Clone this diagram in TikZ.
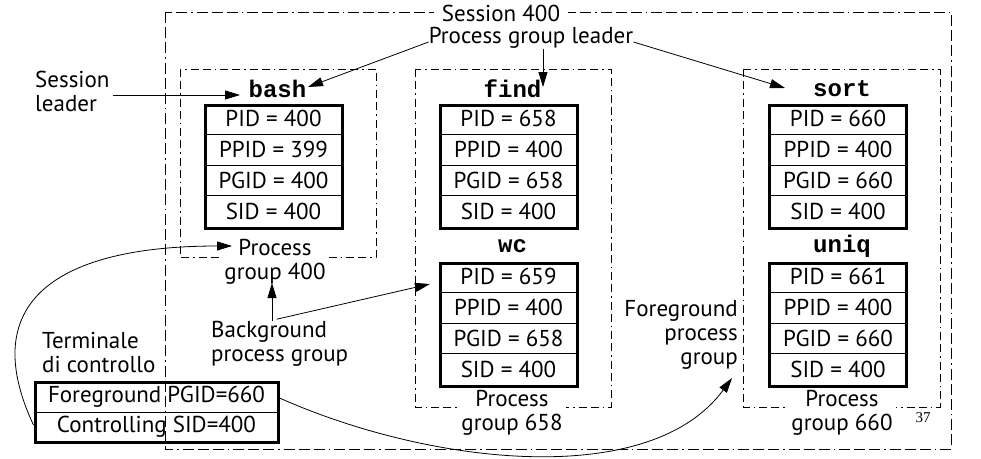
\documentclass[tikz,border=0pt]{standalone}
\usepackage{fontspec}
\setmainfont{PT Sans}
\newfontfamily\monofont{Liberation Mono}
\newfontfamily\serifnum{Liberation Serif}
\usetikzlibrary{arrows.meta}

\newcommand\proctable[8]{%
  \node[tbl] (#1) at (#2,#3) {};
  \node[pname] (#1-name) at ([xshift=4pt,yshift=15pt]#1.north) {#4};
  \node[cell] (#1-r1) at ([yshift=-15.4pt]#1.north) {#5};
  \node[cell] (#1-r2) at ([yshift=-46.1pt]#1.north) {#6};
  \node[cell] (#1-r3) at ([yshift=-76.9pt]#1.north) {#7};
  \node[cell] (#1-r4) at ([yshift=-107.6pt]#1.north) {#8};
  \draw[thin line] ([yshift=-30.75pt]#1.north west) -- ([yshift=-30.75pt]#1.north east);
  \draw[thin line] ([yshift=-61.5pt]#1.north west) -- ([yshift=-61.5pt]#1.north east);
  \draw[thin line] ([yshift=-92.25pt]#1.north west) -- ([yshift=-92.25pt]#1.north east);
}

\begin{document}
\begin{tikzpicture}[x=1pt,y=-1pt,
  txt/.style={font=\fontsize{23}{24}\selectfont, inner sep=0pt},
  cell/.style={txt},
  pname/.style={font=\monofont\bfseries\fontsize{24}{24}\selectfont, inner sep=0pt},
  tbl/.style={draw, line width=3pt, minimum width=137pt, minimum height=123pt, inner sep=0pt},
  thin line/.style={line width=0.9pt},
  sessbox/.style={line width=0.9pt, dash pattern=on 11pt off 4pt on 11pt off 4pt on 11pt off 4pt on 1.5pt off 4pt},
  grpbox/.style={line width=0.9pt, dash pattern=on 8pt off 4pt on 8pt off 4pt on 1.5pt off 4pt},
  arr/.style={line width=0.8pt, -{Triangle[length=15pt,width=9pt]}},
  lbl/.style={txt, fill=white, inner sep=3pt, align=center}
]
\useasboundingbox (0,0) rectangle (981,458);

% session box
\draw[sessbox] (165,12) rectangle (951,449);
% group boxes
\draw[grpbox] (180,69) rectangle (376,257);
\draw[grpbox] (415,69) rectangle (611,407);
\draw[grpbox] (743,69) rectangle (940,407);

\node[lbl, inner xsep=8pt] (sess) at (501,13) {Session 400};
\node[lbl] (pg400) at (275,262) {Process\\group 400};
\node[lbl] (pg658) at (512,413) {Process\\group 658};
\node[lbl] (pg660) at (842,413) {Process\\group 660};

\proctable{bash}{273.5}{166.5}{bash}{PID = 400}{PPID = 399}{PGID = 400}{SID = 400}
\proctable{find}{508.5}{166.5}{find}{PID = 658}{PPID = 400}{PGID = 658}{SID = 400}
\proctable{wc}{508.5}{324.5}{wc}{PID = 659}{PPID = 400}{PGID = 658}{SID = 400}
\proctable{sort}{838}{166.5}{sort}{PID = 660}{PPID = 400}{PGID = 660}{SID = 400}
\proctable{uniq}{838}{324.5}{uniq}{PID = 661}{PPID = 400}{PGID = 660}{SID = 400}

% terminal table
\node[draw, line width=3pt, minimum width=243pt, minimum height=60pt, inner sep=0pt] (term) at (156.5,412) {};
\draw[thin line] (term.west) -- (term.east);
\node[cell] (term-r1) at ([yshift=15pt]term.center) {Foreground PGID=660};
\node[cell] (term-r2) at ([yshift=-15pt]term.center) {Controlling SID=400};

% free labels
\node[txt, align=center] (pgl) at (531,38) {Process group leader};
\node[txt, align=left, anchor=west] (sl) at (35,91) {Session\\leader};
\node[txt, align=left, anchor=west] (tdc) at (42,352) {Terminale\\di controllo};
\node[txt, align=left, anchor=west] (bg) at (211,344) {Background\\process group};
\node[txt, align=right, anchor=east] (fg) at (738,335) {Foreground\\process\\group};
\node[font=\serifnum\fontsize{15}{16}\selectfont, inner sep=0pt] (num) at (923,418) {37};

% arrows
\coordinate (sltip) at (240,95);
\coordinate (bashtip) at (308,87);
\coordinate (findtip) at (543,87);
\coordinate (sorttip) at (785,88);
\coordinate (pgtip) at (232,246);
\coordinate (wctip) at (430,284);
\coordinate (pg4tip) at (272,283);
\coordinate (fgtip) at (732,378);

\draw[arr] ([xshift=3pt,yshift=-4pt]sl.east) -- (sltip);
\draw[arr] ([yshift=-4pt]pgl.west) -- (bashtip);
\draw[arr] (pgl.south -| findtip) -- (findtip);
\draw[arr] ([yshift=-4pt]pgl.east) -- (sorttip);
\draw[arr] (bg.north -| pg4tip) -- (pg4tip);
\draw[arr] ([xshift=-3pt,yshift=2pt]bg.north) -- (wctip);
\draw[arr] ([yshift=-13pt]term.west) .. controls (-25,300) and (60,246) .. (pgtip);
\draw[arr] ([yshift=14pt]term.east) .. controls (430,465) and (650,490) .. (fgtip);
\end{tikzpicture}
\end{document}
